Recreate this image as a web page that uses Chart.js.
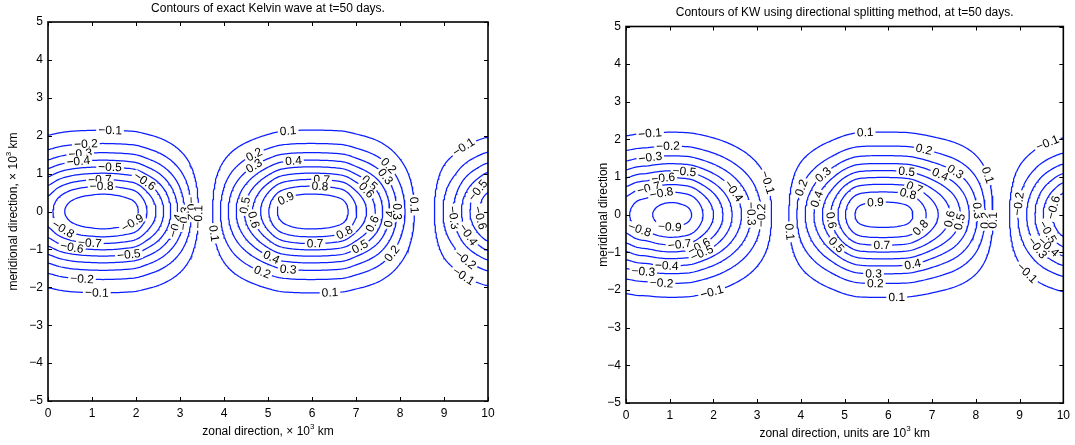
<!DOCTYPE html>
<html>
<head>
<meta charset="utf-8">
<script src="https://cdn.jsdelivr.net/npm/chart.js@4.4.1/dist/chart.umd.min.js"></script>
<style>
  html, body { margin: 0; padding: 0; background: #fff; }
  #wrap { position: relative; width: 1075px; height: 445px; overflow: hidden; }
  canvas { position: absolute; top: 0; }
</style>
</head>
<body>
<div id="wrap">
  <canvas id="exactChart" width="540" height="445" style="left:0"></canvas>
  <canvas id="splitChart" width="535" height="445" style="left:540px"></canvas>
</div>
<script>
const FONT = '"Liberation Sans", Arial, Helvetica, sans-serif';

// contour levels drawn in both panels
const levels = [-0.9, -0.8, -0.7, -0.6, -0.5, -0.4, -0.3, -0.2, -0.1, 0.1, 0.2, 0.3, 0.4, 0.5, 0.6, 0.7, 0.8, 0.9];
const xTicks = [0, 1, 2, 3, 4, 5, 6, 7, 8, 9, 10];
const yTicks = [-5, -4, -3, -2, -1, 0, 1, 2, 3, 4, 5];

// wave amplitude along the equator (y = 0), read every 0.25 from x = 0 to x = 10
const exactZonal = [-0.76, -0.86, -0.93, -0.97, -0.99, -1.0, -0.99, -0.965, -0.92, -0.80,
  -0.675, -0.525, -0.365, -0.205, -0.05, 0.105, 0.245, 0.385, 0.52, 0.655,
  0.79, 0.915, 0.97, 0.995, 1.0, 0.995, 0.975, 0.93, 0.81, 0.695,
  0.565, 0.41, 0.26, 0.135, 0.025, -0.085, -0.21, -0.32, -0.455, -0.575, -0.68];
const splitZonal = [-0.78, -0.85, -0.88, -0.925, -0.945, -0.935, -0.90, -0.805, -0.70, -0.585,
  -0.465, -0.35, -0.24, -0.135, -0.02, 0.115, 0.25, 0.375, 0.505, 0.64,
  0.79, 0.905, 0.94, 0.948, 0.948, 0.94, 0.915, 0.84, 0.75, 0.66,
  0.565, 0.45, 0.32, 0.18, 0.04, -0.09, -0.22, -0.345, -0.48, -0.60, -0.70];

// decay away from the equator, read every 0.25 from y = 0 to y = 3.5 (same both sides)
const exactMerid = [1, 0.969, 0.8825, 0.7548, 0.6065, 0.4578, 0.3247, 0.2163, 0.1353, 0.0796, 0.0439, 0.0228, 0.0111, 0.0051, 0.0022];
const splitMerid = [1, 0.971, 0.890, 0.769, 0.627, 0.482, 0.349, 0.239, 0.154, 0.0939, 0.0539, 0.0292, 0.0149, 0.0072, 0.0033];

// inline contour labels: [level, x, y]
const exactLabels = [
  [-0.1, 1.41, 2.11], [-0.2, 0.86, 1.80], [-0.3, 0.73, 1.56], [-0.4, 0.69, 1.32], [-0.5, 1.41, 1.14],
  [-0.6, 2.13, 0.70], [-0.7, 1.18, 0.83], [-0.8, 1.22, 0.61], [-0.9, 1.68, -0.09], [-0.8, 0.31, -0.53],
  [-0.7, 0.95, -0.84], [-0.6, 0.54, -0.97], [-0.5, 1.83, -1.06], [-0.4, 2.85, -0.36], [-0.3, 3.04, -0.18],
  [-0.2, 3.23, 0.08], [-0.1, 3.43, -0.14], [-0.2, 0.77, -1.81], [-0.1, 1.11, -2.15], [0.1, 3.76, -0.58],
  [0.2, 4.67, 1.54], [0.3, 4.67, 1.23], [0.5, 4.44, 0.17], [0.6, 4.67, -0.22], [0.1, 5.46, 2.08],
  [0.4, 5.58, 1.32], [0.7, 6.22, 0.88], [0.8, 6.18, 0.64], [0.9, 5.48, 0.22], [0.8, 6.71, -0.49],
  [0.7, 6.07, -0.84], [0.5, 7.09, -0.93], [0.6, 7.43, -0.36], [0.4, 5.08, -1.2], [0.3, 5.46, -1.5],
  [0.2, 4.86, -1.63], [0.1, 6.41, -2.15], [0.2, 7.81, 1.28], [0.3, 7.77, 1.01], [0.5, 7.36, 0.83],
  [0.6, 7.28, 0.61], [0.4, 7.93, -0.22], [0.3, 8.11, 0.0], [0.1, 8.45, 0.17], [0.2, 7.93, -1.2],
  [-0.1, 9.44, 1.71], [-0.5, 9.67, 0.66], [-0.6, 9.67, -0.22], [-0.3, 9.1, -0.18], [-0.4, 9.4, -0.71],
  [-0.2, 9.44, -1.33], [-0.1, 9.4, -1.77]
];
const splitLabels = [
  [-0.1, 0.55, 2.17], [-0.2, 0.96, 1.87], [-0.3, 0.55, 1.57], [-0.5, 1.34, 1.18], [-0.6, 0.85, 1.0],
  [-0.7, 0.51, 0.76], [-0.8, 0.81, 0.58], [-0.4, 2.59, 0.74], [-0.1, 3.27, 0.87], [-0.3, 2.97, 0.03],
  [-0.2, 3.2, -0.02], [-0.8, 0.32, -0.37], [-0.9, 1.0, -0.31], [-0.7, 1.23, -0.85], [-0.6, 1.68, -0.88],
  [-0.5, 1.76, -1.09], [-0.4, 0.93, -1.47], [-0.3, 0.39, -1.6], [-0.2, 0.81, -1.86], [-0.1, 1.98, -2.13],
  [0.1, 3.69, -0.46], [0.2, 3.95, 0.74], [0.3, 4.45, 1.14], [0.4, 4.33, 0.43], [0.6, 4.67, -0.15],
  [0.5, 4.83, -0.78], [0.1, 5.47, 2.17], [0.2, 6.83, 1.81], [0.5, 6.42, 1.18], [0.4, 7.21, 1.14],
  [0.3, 7.55, 1.18], [0.7, 6.61, 0.76], [0.8, 6.45, 0.56], [0.9, 5.73, 0.13], [0.6, 7.4, -0.11],
  [0.5, 7.67, -0.2], [0.3, 8.05, 0.11], [0.2, 8.23, -0.15], [0.1, 8.27, 1.05], [0.1, 8.42, -0.15],
  [0.8, 6.72, -0.33], [0.7, 5.85, -0.82], [0.4, 6.57, -1.4], [0.3, 5.66, -1.58], [0.2, 5.7, -1.84],
  [0.1, 6.19, -2.25], [-0.1, 9.64, 1.9], [-0.2, 8.95, 0.29], [-0.6, 9.75, 0.2], [-0.5, 9.56, -0.51],
  [-0.4, 9.64, -0.87], [-0.3, 9.37, -0.91], [-0.1, 9.1, -1.62]
];

const minus = v => (v < 0 ? '\u2212' + (-v) : String(v));

// smooth lookup into a profile sampled every `step`
function profile(arr, step, t, mirror) {
  const u = t / step;
  const i = Math.floor(u);
  const f = u - i;
  const get = k => {
    if (k < 0) k = mirror ? -k : 0;
    if (k > arr.length - 1) k = arr.length - 1;
    return arr[k];
  };
  const p0 = get(i - 1), p1 = get(i), p2 = get(i + 1), p3 = get(i + 2);
  return 0.5 * (2 * p1 + (p2 - p0) * f + (2 * p0 - 5 * p1 + 4 * p2 - p3) * f * f + (3 * p1 - p0 - 3 * p2 + p3) * f * f * f);
}

function makeField(zonal, merid) {
  return (x, y) => profile(zonal, 0.25, x, false) * profile(merid, 0.25, Math.abs(y), true);
}

// sample the field and trace each level with marching squares
function contourSets(field) {
  const nx = 200, ny = 140, y0 = -3.5;
  const dx = 10 / nx, dy = 7 / ny;
  const v = [];
  for (let j = 0; j <= ny; j++) {
    const row = [];
    for (let i = 0; i <= nx; i++) row.push(field(i * dx, y0 + j * dy));
    v.push(row);
  }
  const out = [];
  for (const level of levels) {
    const pts = new Map(), links = new Map();
    const edge = (key, xa, ya, va, xb, yb, vb) => {
      if (!pts.has(key)) {
        const t = (level - va) / (vb - va);
        pts.set(key, { x: xa + (xb - xa) * t, y: ya + (yb - ya) * t });
      }
      return key;
    };
    const link = (a, b) => {
      if (!links.has(a)) links.set(a, []);
      if (!links.has(b)) links.set(b, []);
      links.get(a).push(b);
      links.get(b).push(a);
    };
    for (let j = 0; j < ny; j++) {
      for (let i = 0; i < nx; i++) {
        const a = v[j][i], b = v[j][i + 1], c = v[j + 1][i + 1], d = v[j + 1][i];
        const X = i * dx, Y = y0 + j * dy;
        const e = [];
        if ((a > level) !== (b > level)) e[0] = edge('h' + i + '_' + j, X, Y, a, X + dx, Y, b);
        if ((b > level) !== (c > level)) e[1] = edge('v' + (i + 1) + '_' + j, X + dx, Y, b, X + dx, Y + dy, c);
        if ((d > level) !== (c > level)) e[2] = edge('h' + i + '_' + (j + 1), X, Y + dy, d, X + dx, Y + dy, c);
        if ((a > level) !== (d > level)) e[3] = edge('v' + i + '_' + j, X, Y, a, X, Y + dy, d);
        const hit = [0, 1, 2, 3].filter(k => e[k] !== undefined);
        if (hit.length === 2) link(e[hit[0]], e[hit[1]]);
        else if (hit.length === 4) {
          const mid = (a + b + c + d) / 4;
          if ((a > level) === (mid > level)) { link(e[0], e[1]); link(e[2], e[3]); }
          else { link(e[3], e[0]); link(e[1], e[2]); }
        }
      }
    }
    const used = new Set();
    const walk = start => {
      const line = [pts.get(start)];
      used.add(start);
      let cur = start;
      for (;;) {
        const nb = links.get(cur).find(k => !used.has(k));
        if (nb === undefined) {
          if (links.get(cur).includes(start) && line.length > 2) line.push(pts.get(start));
          break;
        }
        used.add(nb);
        line.push(pts.get(nb));
        cur = nb;
      }
      return line;
    };
    for (const [k, nb] of links) if (nb.length === 1 && !used.has(k)) out.push(walk(k));
    for (const k of links.keys()) if (!used.has(k)) out.push(walk(k));
  }
  return out;
}

function drawRich(ctx, parts, cx, cy) {
  let w = 0;
  for (const [t, sup] of parts) {
    ctx.font = (sup ? '8px ' : '12px ') + FONT;
    w += ctx.measureText(t).width;
  }
  let xx = cx - w / 2;
  ctx.textAlign = 'left';
  ctx.textBaseline = 'middle';
  for (const [t, sup] of parts) {
    ctx.font = (sup ? '8px ' : '12px ') + FONT;
    ctx.fillText(t, xx, sup ? cy - 5 : cy);
    xx += ctx.measureText(t).width;
  }
}

const framePlugin = {
  id: 'frame',
  afterDraw(chart, args, opts) {
    const { ctx, chartArea: a, scales: { x, y } } = chart;
    ctx.save();
    ctx.strokeStyle = '#000';
    ctx.lineWidth = 1;
    ctx.beginPath();
    for (const t of xTicks) {
      const px = Math.round(x.getPixelForValue(t)) + 0.5;
      ctx.moveTo(px, a.bottom); ctx.lineTo(px, a.bottom - 4);
      ctx.moveTo(px, a.top); ctx.lineTo(px, a.top + 4);
    }
    for (const t of yTicks) {
      const py = Math.round(y.getPixelForValue(t)) + 0.5;
      ctx.moveTo(a.left, py); ctx.lineTo(a.left + 4, py);
      ctx.moveTo(a.right, py); ctx.lineTo(a.right - 4, py);
    }
    ctx.stroke();
    ctx.lineWidth = 1.6;
    ctx.strokeRect(a.left, a.top, a.right - a.left, a.bottom - a.top);

    ctx.fillStyle = '#000';
    ctx.font = '12px ' + FONT;
    ctx.textAlign = 'center';
    ctx.textBaseline = 'middle';
    ctx.fillText(opts.title, (a.left + a.right) / 2, a.top - 13.5);
    drawRich(ctx, opts.xTitle, (a.left + a.right) / 2, a.bottom + 31);
    ctx.translate(opts.yTitleX, (a.top + a.bottom) / 2);
    ctx.rotate(-Math.PI / 2);
    drawRich(ctx, opts.yTitle, 0, 0);
    ctx.restore();
  }
};

const labelPlugin = {
  id: 'contourLabels',
  afterDatasetsDraw(chart, args, opts) {
    const { ctx, chartArea: a, scales: { x, y } } = chart;
    const F = opts.field;
    const sx = x.getPixelForValue(1) - x.getPixelForValue(0);
    const sy = y.getPixelForValue(0) - y.getPixelForValue(1);
    ctx.save();
    ctx.beginPath();
    ctx.rect(a.left, a.top, a.right - a.left, a.bottom - a.top);
    ctx.clip();
    ctx.font = '12px ' + FONT;
    ctx.textAlign = 'center';
    ctx.textBaseline = 'middle';
    const h = 1e-3;
    for (const [lev, lx, ly] of opts.labels) {
      let px = lx, py = ly, gx = 0, gy = 0;
      for (let it = 0; it < 25; it++) {
        const f = F(px, py) - lev;
        gx = (F(px + h, py) - F(px - h, py)) / (2 * h) / sx;
        gy = (F(px, py + h) - F(px, py - h)) / (2 * h) / sy;
        const g2 = gx * gx + gy * gy;
        if (g2 < 1e-14) break;
        px -= f * gx / g2 / sx;
        py -= f * gy / g2 / sy;
      }
      let ang = Math.atan2(gx, gy);
      if (ang > Math.PI / 2) ang -= Math.PI;
      if (ang <= -Math.PI / 2) ang += Math.PI;
      const text = minus(lev);
      const w = ctx.measureText(text).width;
      ctx.save();
      ctx.translate(x.getPixelForValue(px), y.getPixelForValue(py));
      ctx.rotate(ang);
      ctx.fillStyle = '#fff';
      ctx.fillRect(-w / 2 - 2, -5, w + 4, 10);
      ctx.fillStyle = '#000';
      ctx.fillText(text, 0, 0.5);
      ctx.restore();
    }
    ctx.restore();
  }
};

function buildChart(id, cfg) {
  const field = makeField(cfg.zonal, cfg.merid);
  const datasets = contourSets(field).map(line => ({
    data: line,
    showLine: true,
    borderColor: 'rgb(10, 30, 255)',
    borderWidth: 1.25,
    pointRadius: 0,
    tension: 0
  }));
  const tickFont = { family: FONT, size: 12 };
  new Chart(document.getElementById(id), {
    type: 'scatter',
    data: { datasets },
    options: {
      responsive: false,
      animation: false,
      events: [],
      layout: { padding: cfg.padding },
      plugins: {
        legend: { display: false },
        tooltip: { enabled: false },
        frame: { title: cfg.title, xTitle: cfg.xTitle, yTitle: cfg.yTitle, yTitleX: cfg.yTitleX },
        contourLabels: { field, labels: cfg.labels }
      },
      scales: {
        x: {
          type: 'linear', min: 0, max: 10,
          afterBuildTicks: s => { s.ticks = xTicks.map(v => ({ value: v })); },
          afterFit: s => { s.height = cfg.xHeight; },
          grid: { display: false, drawTicks: false },
          border: { display: false },
          ticks: { color: '#000', font: tickFont, padding: 5, maxRotation: 0, autoSkip: false, callback: minus }
        },
        y: {
          type: 'linear', min: -5, max: 5,
          afterBuildTicks: s => { s.ticks = yTicks.map(v => ({ value: v })); },
          afterFit: s => { s.width = cfg.yWidth; },
          grid: { display: false, drawTicks: false },
          border: { display: false },
          ticks: { color: '#000', font: tickFont, padding: 5, autoSkip: false, callback: minus }
        }
      }
    },
    plugins: [labelPlugin, framePlugin]
  });
}

buildChart('exactChart', {
  zonal: exactZonal, merid: exactMerid, labels: exactLabels,
  title: 'Contours of exact Kelvin wave at t=50 days.',
  xTitle: [['zonal direction, \u00d7 10', false], ['3', true], [' km', false]],
  yTitle: [['meridional direction, \u00d7 10', false], ['3', true], [' km', false]],
  yTitleX: 14,
  padding: { left: 0, right: 52, top: 22, bottom: 0 },
  yWidth: 48, xHeight: 44
});

buildChart('splitChart', {
  zonal: splitZonal, merid: splitMerid, labels: splitLabels,
  title: 'Contours of KW using directional splitting method, at t=50 days.',
  xTitle: [['zonal direction, units are 10', false], ['3', true], [' km', false]],
  yTitle: [['meridional direction', false]],
  yTitleX: 64,
  padding: { left: 0, right: 9, top: 26.5, bottom: 0 },
  yWidth: 86, xHeight: 42
});
</script>
</body>
</html>
